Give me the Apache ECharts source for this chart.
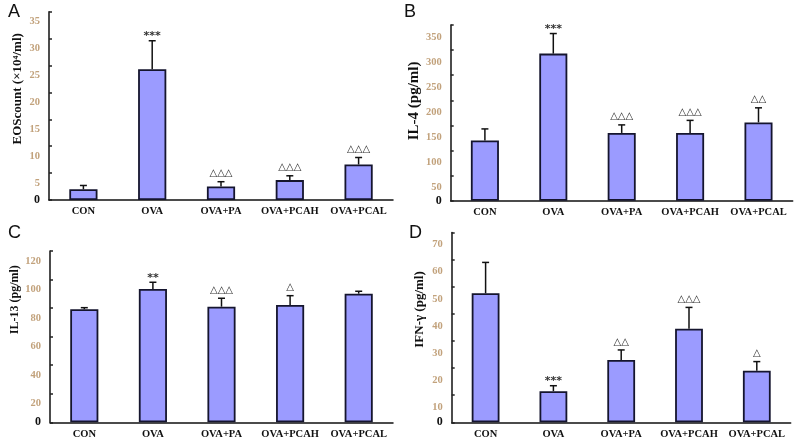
<!DOCTYPE html>
<html>
<head>
<meta charset="utf-8">
<script src="https://cdn.jsdelivr.net/npm/echarts@6/dist/echarts.min.js"></script>
<style>
html,body{margin:0;padding:0;background:#fff;}
#c{width:800px;height:443px;}
</style>
</head>
<body>
<div id="c"></div>
<script>
// ---- data ----
const categories = ['CON', 'OVA', 'OVA+PA', 'OVA+PCAH', 'OVA+PCAL'];

const eosMean = [2.0, 24.3, 2.5, 3.7, 6.6];
const eosSD   = [0.7, 5.3, 0.9, 0.8, 1.3];
const eosMarks = ['', '***', '△△△', '△△△', '△△△'];
const eosTicks = [0, 5, 10, 15, 20, 25, 30, 35];

const il4Mean = [120, 293, 135, 135, 156];
const il4SD   = [23, 40, 16, 25, 29];
const il4Marks = ['', '***', '△△△', '△△△', '△△'];
const il4Ticks = [0, 50, 100, 150, 200, 250, 300, 350];

const il13Mean = [79.2, 93.4, 81.0, 82.2, 90.1];
const il13SD   = [1.1, 4.7, 5.9, 6.5, 1.7];
const il13Marks = ['', '**', '△△△', '△', ''];
const il13Ticks = [0, 20, 40, 60, 80, 100, 120];

const ifnMean = [47.6, 11.5, 23.0, 34.5, 19.0];
const ifnSD   = [11.4, 2.0, 3.7, 7.9, 3.4];
const ifnMarks = ['', '***', '△△', '△△△', '△'];
const ifnTicks = [0, 10, 20, 30, 40, 50, 60, 70];

const panelLetters = ['A', 'B', 'C', 'D'];
const axisNames = ['EOScount (×10⁴/ml)', 'IL-4 (pg/ml)', 'IL-13 (pg/ml)', 'IFN-γ (pg/ml)'];

// ---- layout ----
const panels = [
  {mean: eosMean, sd: eosSD, marks: eosMarks, ticks: eosTicks,
   grid: {left: 49, right: 407, top: 11.7, bottom: 243}, nameGap: 25, namePad: 34, nameSize: 13, labShift: 10},
  {mean: il4Mean, sd: il4SD, marks: il4Marks, ticks: il4Ticks,
   grid: {left: 450.7, right: 7.3, top: 25, bottom: 242.3}, nameGap: 27, namePad: 24, nameSize: 15, labShift: 12},
  {mean: il13Mean, sd: il13SD, marks: il13Marks, ticks: il13Ticks,
   grid: {left: 50, right: 407, top: 251, bottom: 20.7}, nameGap: 27, namePad: 74, nameSize: 12, labShift: 10},
  {mean: ifnMean, sd: ifnSD, marks: ifnMarks, ticks: ifnTicks,
   grid: {left: 451.7, right: 9.3, top: 232.6, bottom: 20.7}, nameGap: 26, namePad: 36, nameSize: 13, labShift: 12}
];
const letterPos = [[8, 3], [404, 3], [8, 224], [409, 224]];

const serif = "'Liberation Serif', 'DejaVu Serif', serif";

const grids = [], xAxes = [], yAxes = [], series = [], graphics = [];

panels.forEach((p, i) => {
  grids.push(Object.assign({containLabel: false}, p.grid));
  xAxes.push({
    type: 'category', gridIndex: i, data: categories,
    axisLine: {lineStyle: {color: '#111', width: 1.5}},
    axisTick: {inside: true, length: 3, lineStyle: {color: '#222', width: 1.5}},
    axisLabel: {color: '#111', fontFamily: serif, fontWeight: 'bold', fontSize: 10.5, margin: 6, interval: 0}
  });
  const t = p.ticks;
  yAxes.push({
    type: 'value', gridIndex: i, min: t[0], max: t[t.length - 1], interval: t[1] - t[0],
    name: axisNames[i], nameLocation: 'middle', nameRotate: 90, nameGap: p.nameGap,
    nameTextStyle: {color: '#111', fontFamily: serif, fontWeight: 'bold', fontSize: p.nameSize,
      padding: [0, 0, 0, p.namePad]},
    axisLine: {show: true, lineStyle: {color: '#111', width: 1.5}},
    axisTick: {show: true, inside: true, length: 3, lineStyle: {color: '#222', width: 1.5}},
    splitLine: {show: false},
    axisLabel: {
      margin: 9,
      formatter: v => v === 0 ? '{z|0}' : '{n|' + v + '}',
      rich: {
        z: {color: '#111', fontFamily: serif, fontWeight: 'bold', fontSize: 12},
        n: {color: '#c2a27c', fontFamily: serif, fontWeight: 'bold', fontSize: 10.5,
            padding: [p.labShift * 2, 0, 0, 0]}
      }
    }
  });
  series.push({
    type: 'bar', xAxisIndex: i, yAxisIndex: i, data: p.mean, barWidth: '41%',
    itemStyle: {color: '#9b9bff', borderColor: '#15152e', borderWidth: 1.8},
    z: 2
  });
  series.push({
    type: 'custom', xAxisIndex: i, yAxisIndex: i, z: 3,
    data: p.mean.map((m, k) => [k, m, m + p.sd[k]]),
    renderItem: (params, api) => {
      const k = api.value(0);
      const base = api.coord([k, api.value(1)]);
      const top = api.coord([k, api.value(2)]);
      const children = [
        {type: 'line', shape: {x1: base[0], y1: base[1], x2: top[0], y2: top[1]},
         style: {stroke: '#111', lineWidth: 1.5}},
        {type: 'line', shape: {x1: top[0] - 3.5, y1: top[1], x2: top[0] + 3.5, y2: top[1]},
         style: {stroke: '#111', lineWidth: 1.5}}
      ];
      const mk = p.marks[k];
      if (mk) {
        const isStar = mk.indexOf('*') >= 0;
        children.push({type: 'text', style: {
          text: mk, x: top[0], y: top[1] - (isStar ? -1 : 3),
          align: 'center', verticalAlign: 'bottom',
          fontFamily: "'DejaVu Sans', sans-serif",
          fontSize: isStar ? 11 : 10, fontWeight: 'bold', fill: '#333'
        }});
      }
      return {type: 'group', children};
    }
  });
  graphics.push({
    type: 'text', left: letterPos[i][0], top: letterPos[i][1],
    style: {text: panelLetters[i], font: "18px 'Liberation Sans', Arial, sans-serif", fill: '#111'}
  });
});

const chart = echarts.init(document.getElementById('c'), null, {renderer: 'canvas'});
chart.setOption({
  animation: false,
  backgroundColor: '#fff',
  grid: grids, xAxis: xAxes, yAxis: yAxes, series: series, graphic: graphics
});
</script>
</body>
</html>
